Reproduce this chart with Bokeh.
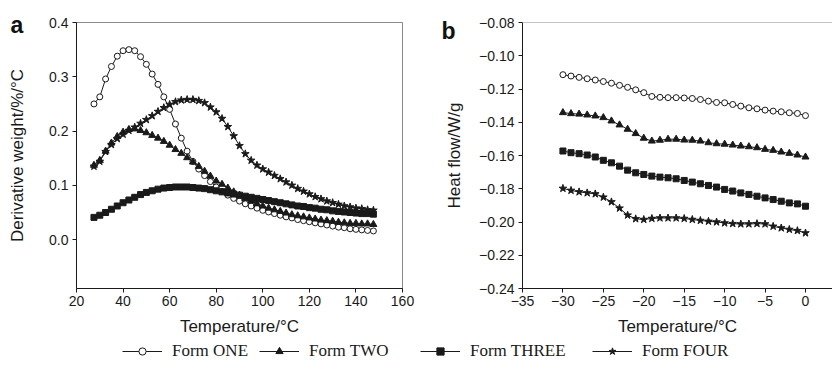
from bokeh.plotting import figure
from bokeh.layouts import column, row
from bokeh.models import Range1d, FixedTicker, Span, Title, Legend, LegendItem, ColumnDataSource
from bokeh.embed import file_html
from bokeh.resources import INLINE

# ---------------- data: panel a (DTG) ----------------
temp_a = [27.5, 30, 32.5, 35, 37.5, 40, 42.5, 45, 47.5, 50, 52.5, 55, 57.5, 60, 62.5, 65, 67.5,
          70, 72.5, 75, 77.5, 80, 82.5, 85, 87.5, 90, 92.5, 95, 97.5, 100, 102.5, 105, 107.5,
          110, 112.5, 115, 117.5, 120, 122.5, 125, 127.5, 130, 132.5, 135, 137.5, 140, 142.5,
          145, 147.5]
one_a = [0.250, 0.263, 0.296, 0.319, 0.338, 0.348, 0.350, 0.348, 0.337, 0.323, 0.305, 0.286, 0.263,
         0.240, 0.213, 0.187, 0.163, 0.144, 0.130, 0.118, 0.107, 0.097, 0.089, 0.082, 0.076, 0.071,
         0.066, 0.062, 0.058, 0.054, 0.051, 0.048, 0.045, 0.042, 0.040, 0.037, 0.035, 0.033, 0.031,
         0.029, 0.027, 0.025, 0.023, 0.022, 0.020, 0.019, 0.018, 0.017, 0.016]
two_a = [0.137, 0.146, 0.163, 0.178, 0.190, 0.198, 0.203, 0.204, 0.201, 0.197, 0.192, 0.187, 0.181,
         0.174, 0.166, 0.159, 0.151, 0.143, 0.135, 0.126, 0.117, 0.108, 0.102, 0.095, 0.088, 0.082,
         0.076, 0.071, 0.066, 0.062, 0.058, 0.055, 0.052, 0.049, 0.046, 0.044, 0.042, 0.040, 0.038,
         0.036, 0.035, 0.034, 0.032, 0.031, 0.030, 0.030, 0.029, 0.029, 0.028]
three_a = [0.041, 0.045, 0.050, 0.056, 0.062, 0.068, 0.073, 0.078, 0.083, 0.087, 0.090, 0.093, 0.095,
           0.096, 0.097, 0.097, 0.097, 0.096, 0.095, 0.094, 0.092, 0.090, 0.088, 0.086, 0.084, 0.082,
           0.080, 0.078, 0.076, 0.074, 0.072, 0.070, 0.068, 0.066, 0.064, 0.062, 0.061, 0.059, 0.058,
           0.056, 0.055, 0.053, 0.052, 0.051, 0.050, 0.049, 0.048, 0.048, 0.047]
four_a = [0.135, 0.144, 0.162, 0.175, 0.186, 0.194, 0.201, 0.207, 0.214, 0.221, 0.228, 0.236, 0.243,
          0.249, 0.254, 0.257, 0.258, 0.258, 0.256, 0.252, 0.244, 0.235, 0.223, 0.208, 0.191, 0.173,
          0.158, 0.146, 0.137, 0.130, 0.124, 0.118, 0.112, 0.106, 0.100, 0.094, 0.089, 0.084, 0.079,
          0.075, 0.071, 0.068, 0.065, 0.062, 0.060, 0.058, 0.057, 0.055, 0.054]

# ---------------- data: panel b (DSC) ----------------
temp_b = [-30, -29, -28, -27, -26, -25, -24, -23, -22, -21, -20, -19, -18, -17, -16, -15,
          -14, -13, -12, -11, -10, -9, -8, -7, -6, -5, -4, -3, -2, -1, 0]
one_b = [-0.1114, -0.1122, -0.1130, -0.1138, -0.1146, -0.1155, -0.1165, -0.1178, -0.1190, -0.1205,
         -0.1222, -0.1245, -0.1250, -0.1252, -0.1252, -0.1254, -0.1257, -0.1263, -0.1273, -0.1281,
         -0.1283, -0.1293, -0.1303, -0.1313, -0.1319, -0.1327, -0.1333, -0.1337, -0.1343, -0.1347,
         -0.1360]
two_b = [-0.1342, -0.1348, -0.1351, -0.1356, -0.1362, -0.1372, -0.1392, -0.1416, -0.1442, -0.1468,
         -0.1496, -0.1513, -0.1508, -0.1502, -0.1502, -0.1507, -0.1508, -0.1513, -0.1523, -0.1529,
         -0.1532, -0.1537, -0.1543, -0.1547, -0.1553, -0.1563, -0.1569, -0.1579, -0.1587, -0.1597,
         -0.1609]
three_b = [-0.1573, -0.1583, -0.1589, -0.1597, -0.1609, -0.1629, -0.1644, -0.1664, -0.1688, -0.1704,
           -0.1714, -0.1724, -0.1730, -0.1734, -0.1740, -0.1750, -0.1760, -0.1770, -0.1780, -0.1790,
           -0.1804, -0.1814, -0.1825, -0.1834, -0.1845, -0.1855, -0.1865, -0.1875, -0.1885, -0.1891,
           -0.1905]
four_b = [-0.1798, -0.1810, -0.1819, -0.1825, -0.1831, -0.1851, -0.1879, -0.1917, -0.1959, -0.1981,
          -0.1985, -0.1979, -0.1976, -0.1976, -0.1976, -0.1979, -0.1985, -0.1991, -0.1996, -0.2000,
          -0.2006, -0.2010, -0.2012, -0.2012, -0.2010, -0.2012, -0.2026, -0.2036, -0.2045, -0.2052,
          -0.2066]

series_names = ["Form ONE", "Form TWO", "Form THREE", "Form FOUR"]

# ticks
xticks_a = [20, 40, 60, 80, 100, 120, 140, 160]
xlabels_a = ["20", "40", "60", "80", "100", "120", "140", "160"]
yticks_a = [0.0, 0.1, 0.2, 0.3, 0.4]
ylabels_a = ["0.0", "0.1", "0.2", "0.3", "0.4"]
xticks_b = [-35, -30, -25, -20, -15, -10, -5, 0]
xlabels_b = ["\u221235", "\u221230", "\u221225", "\u221220", "\u221215", "\u221210", "\u22125", "0"]
yticks_b = [-0.24, -0.22, -0.20, -0.18, -0.16, -0.14, -0.12, -0.10, -0.08]
ylabels_b = ["\u22120.24", "\u22120.22", "\u22120.20", "\u22120.18", "\u22120.16", "\u22120.14",
             "\u22120.12", "\u22120.10", "\u22120.08"]

# ---------------- styling ----------------
SANS = "Liberation Sans"
SERIF = "Liberation Serif"
INK = "#1a1a1a"
BORDER = "#8a8a8a"
H = 338

marker_styles = [
    dict(marker="circle", size=6, fill_color="white", line_color=INK),
    dict(marker="triangle", size=7, fill_color=INK, line_color=INK),
    dict(marker="square", size=6, fill_color=INK, line_color=INK),
    dict(marker="star", size=8, fill_color=INK, line_color=INK),
]


def style_axes(p, xt, xl, yt, yl, ylabel):
    p.xaxis.ticker = FixedTicker(ticks=xt)
    p.yaxis.ticker = FixedTicker(ticks=yt)
    p.xaxis.major_label_overrides = {t: l for t, l in zip(xt, xl)}
    p.yaxis.major_label_overrides = {t: l for t, l in zip(yt, yl)}
    for ax in (p.xaxis, p.yaxis):
        ax.axis_line_color = INK
        ax.axis_line_width = 1
        ax.major_tick_line_color = INK
        ax.major_tick_in = 0
        ax.major_tick_out = 4
        ax.minor_tick_line_color = None
        ax.major_label_text_font = SANS
        ax.major_label_text_font_size = "14px"
        ax.major_label_text_color = INK
        ax.axis_label_text_font = SANS
        ax.axis_label_text_font_size = "17px"
        ax.axis_label_text_font_style = "normal"
        ax.axis_label_text_color = INK
    p.xaxis.major_label_standoff = 3
    p.yaxis.major_label_standoff = 4
    p.xaxis.axis_label = "Temperature/\u00b0C"
    p.xaxis.axis_label_standoff = 8
    p.yaxis.axis_label = ylabel
    p.grid.visible = False


def panel_letter(p, letter, offset, standoff):
    t = Title(text=letter, align="left", vertical_align="bottom", offset=offset, standoff=standoff,
              text_font=SANS, text_font_style="bold", text_font_size="23px", text_color="#111111")
    p.add_layout(t, "above")


# ---------------- panel a ----------------
p1 = figure(width=420, height=H, output_backend="svg", toolbar_location=None,
            x_range=Range1d(20, 160), y_range=Range1d(-0.09, 0.4),
            min_border_left=76, min_border_right=18, min_border_top=22, min_border_bottom=45)
p1.outline_line_color = BORDER
p1.outline_line_width = 1
style_axes(p1, xticks_a, xlabels_a, yticks_a, ylabels_a, "Derivative weight/%/\u00b0C")
p1.yaxis.axis_label_standoff = 19
panel_letter(p1, "a", -66, -30)

for ys, ms in zip([one_a, two_a, three_a, four_a], marker_styles):
    src = ColumnDataSource(dict(x=temp_a, y=ys))
    p1.line("x", "y", source=src, line_color=INK, line_width=1)
    p1.scatter("x", "y", source=src, **ms)

# ---------------- panel b ----------------
p2 = figure(width=412, height=H, output_backend="svg", toolbar_location=None,
            x_range=Range1d(-35, 3.34), y_range=Range1d(-0.24, -0.08),
            min_border_left=102, min_border_right=0, min_border_top=22, min_border_bottom=45)
p2.outline_line_color = None
style_axes(p2, xticks_b, xlabels_b, yticks_b, ylabels_b, "Heat flow/W/g")
p2.yaxis.axis_label_standoff = 12
p2.add_layout(Span(location=-0.08, dimension="width", line_color=BORDER, line_width=1))
panel_letter(p2, "b", -81, -42)

for ys, ms in zip([one_b, two_b, three_b, four_b], marker_styles):
    src = ColumnDataSource(dict(x=temp_b, y=ys))
    p2.line("x", "y", source=src, line_color=INK, line_width=1)
    p2.scatter("x", "y", source=src, **ms)

# ---------------- legend strip ----------------
# series are drawn here only to feed the legend; the view window holds no data
p3 = figure(width=832, height=26, output_backend="svg", toolbar_location=None,
            x_range=Range1d(-1000, -999), y_range=Range1d(-1000, -999),
            min_border_left=0, min_border_right=0, min_border_top=0, min_border_bottom=0)
p3.outline_line_color = None
p3.axis.visible = False
p3.grid.visible = False
legend_x = [122, 259, 420, 592]
for name, ys, ms, lx in zip(series_names, [one_a, two_a, three_a, four_a], marker_styles, legend_x):
    src = ColumnDataSource(dict(x=temp_a, y=ys))
    lr = p3.line("x", "y", source=src, line_color=INK, line_width=1)
    sr = p3.scatter("x", "y", source=src, **dict(ms, size=ms["size"] + 3))
    lg = Legend(items=[LegendItem(label=name, renderers=[lr, sr])], location=(lx, 3),
                label_text_font=SERIF, label_text_font_size="17px", label_text_color=INK,
                glyph_width=40, glyph_height=18, label_standoff=10, label_height=20,
                padding=0, margin=0, border_line_color=None, background_fill_alpha=0)
    p3.add_layout(lg, "center")

layout = column(row(p1, p2), p3)
open("out.html", "w").write(file_html(layout, INLINE))
